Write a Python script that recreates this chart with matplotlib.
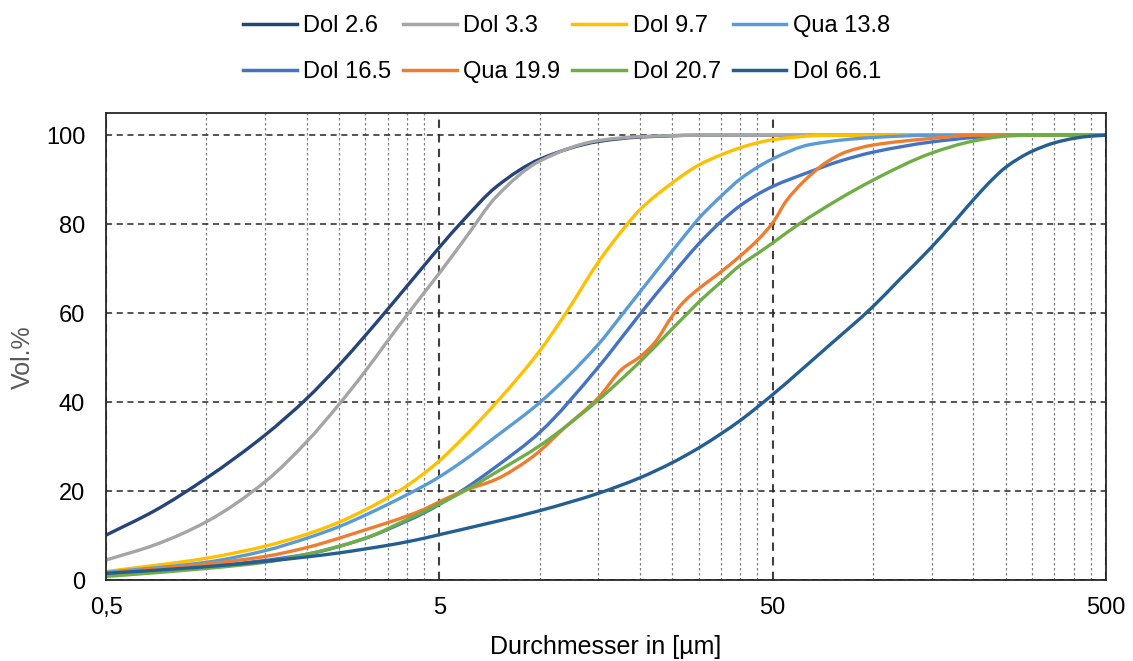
import numpy as np
import matplotlib
matplotlib.use("Agg")
import matplotlib.pyplot as plt
from matplotlib.path import Path
from matplotlib.patches import PathPatch
from matplotlib.lines import Line2D
from matplotlib.ticker import FixedLocator, FixedFormatter, NullFormatter

plt.rcParams['font.family'] = ['Liberation Sans', 'DejaVu Sans']

# particle size distributions, cumulative Vol.% over diameter in µm
dol_2_6_x = [0.5, 0.7, 1, 1.5, 2, 2.5, 3, 3.5, 4, 4.5, 5, 5.9, 7.43, 10, 15, 20, 30, 50, 500]
dol_2_6_y = [10.1, 15.6, 22.9, 32.6, 40.8, 48.3, 55.0, 60.9, 66.1, 70.7, 74.8, 80.9, 88.5, 94.6, 98.6, 99.6, 100, 100, 100]

dol_3_3_x = [0.5, 0.7, 1, 1.5, 2, 2.5, 3, 3.5, 4, 4.5, 5, 6, 7.43, 10, 15, 20, 30, 500]
dol_3_3_y = [4.5, 7.9, 13.1, 22.1, 31.1, 39.5, 47.0, 53.8, 59.6, 64.6, 69.0, 77.0, 86.3, 94.2, 98.8, 99.7, 100, 100]

dol_9_7_x = [0.5, 1, 1.5, 2, 2.5, 3, 3.5, 4, 4.5, 5, 5.9, 7.43, 10, 12.1, 15, 18.3, 20, 25, 30, 35, 40, 45, 50, 72.8, 500]
dol_9_7_y = [1.9, 4.9, 7.6, 10.3, 13.0, 15.8, 18.5, 21.2, 24.0, 26.8, 32.0, 40.0, 51.5, 60.5, 71.5, 80.0, 83.3, 89.3, 93.3, 95.6, 97.2, 98.3, 99.0, 100, 100]

qua_13_8_x = [0.5, 1, 1.5, 2, 2.5, 3, 3.5, 4, 4.5, 5, 5.9, 7.43, 10, 15, 17.8, 20, 25, 28.3, 30, 35, 40, 45, 50, 64.7, 100, 150, 500]
qua_13_8_y = [1.7, 4.0, 6.6, 9.4, 12.0, 14.6, 17.0, 19.2, 21.2, 23.2, 26.8, 32.4, 39.9, 53.0, 60.0, 64.8, 74.0, 79.0, 81.3, 86.3, 90.2, 92.8, 94.7, 97.9, 99.5, 100, 100]

dol_16_5_x = [0.5, 1, 2, 3, 4, 4.5, 5, 5.9, 7.43, 10, 15, 18.7, 20, 25, 30, 35, 40, 45, 50, 64.7, 79.6, 100, 150, 200, 250, 500]
dol_16_5_y = [1.3, 3.0, 5.8, 9.4, 13.3, 15.1, 17.0, 20.3, 25.6, 33.2, 47.9, 57.0, 59.8, 68.7, 75.6, 80.6, 84.2, 86.7, 88.5, 91.8, 94.2, 96.2, 98.5, 99.5, 100, 100]

qua_19_9_x = [0.5, 1, 1.5, 2, 2.5, 3, 3.5, 4, 4.5, 5, 5.9, 7.43, 9.36, 10, 11.78, 15, 17.7, 20, 22.2, 25, 27.1, 30, 35, 40, 45, 50, 55, 61.7, 72.7, 83.4, 100, 150, 200, 500]
qua_19_9_y = [1.5, 3.6, 5.3, 7.3, 9.4, 11.3, 12.9, 14.4, 15.9, 17.6, 20.0, 22.7, 27.3, 29.0, 34.0, 41.0, 47.5, 50.2, 53.5, 59.4, 62.6, 65.5, 69.3, 72.9, 76.4, 80.3, 85.3, 89.5, 94.0, 96.3, 97.8, 99.3, 100, 100]

dol_20_7_x = [0.5, 1, 1.5, 2, 3, 4, 4.5, 5, 5.9, 7.43, 10, 11.78, 15, 20, 25, 27.8, 30, 35, 40, 45, 50, 60.7, 100, 150, 200, 250, 300, 500]
dol_20_7_y = [0.8, 2.6, 4.0, 5.8, 9.4, 13.6, 15.4, 17.1, 19.9, 24.3, 30.2, 34.1, 40.5, 49.1, 56.5, 60.0, 62.5, 67.0, 70.8, 73.4, 75.8, 80.3, 89.9, 96.0, 98.7, 99.8, 100, 100]

dol_66_1_x = [0.5, 1, 1.5, 2, 2.5, 3, 3.5, 4, 4.5, 5, 7.43, 10, 15, 20, 25, 30, 35, 40, 45, 50, 72.7, 100, 119.5, 150, 174.6, 200, 228.9, 250, 300, 350, 400, 450, 500]
dol_66_1_y = [1.5, 3.0, 4.2, 5.2, 6.1, 7.0, 7.8, 8.6, 9.4, 10.2, 13.2, 15.6, 19.5, 23.0, 26.4, 29.7, 32.9, 35.9, 38.9, 41.7, 52.3, 61.5, 67.4, 74.9, 80.4, 85.5, 90.2, 92.8, 96.4, 98.3, 99.3, 99.8, 100]

labels = ["Dol 2.6", "Dol 3.3", "Dol 9.7", "Qua 13.8", "Dol 16.5", "Qua 19.9", "Dol 20.7", "Dol 66.1"]
colors = ["#264478", "#A5A5A5", "#FFC000", "#5B9BD5", "#4472C4", "#ED7D31", "#70AD47", "#255E91"]
series = [
    (dol_2_6_x, dol_2_6_y), (dol_3_3_x, dol_3_3_y), (dol_9_7_x, dol_9_7_y),
    (qua_13_8_x, qua_13_8_y), (dol_16_5_x, dol_16_5_y), (qua_19_9_x, qua_19_9_y),
    (dol_20_7_x, dol_20_7_y), (dol_66_1_x, dol_66_1_y),
]

x_ticks = [0.5, 5, 50, 500]
x_tick_labels = ["0,5", "5", "50", "500"]
y_ticks = [0, 20, 40, 60, 80, 100]


def smooth_path(xs, ys):
    """Smoothed line like Excel: monotone cubic bezier through the points, in log-x space."""
    lx = np.log10(xs)
    y = np.asarray(ys, float)
    h = np.diff(lx)
    d = np.diff(y) / h
    m = np.zeros(len(y))
    for k in range(1, len(y) - 1):
        if d[k - 1] * d[k] > 0:
            w1, w2 = 2 * h[k] + h[k - 1], h[k] + 2 * h[k - 1]
            m[k] = (w1 + w2) / (w1 / d[k - 1] + w2 / d[k])
    m[0], m[-1] = d[0], d[-1]
    verts = [(xs[0], ys[0])]
    codes = [Path.MOVETO]
    for k in range(len(y) - 1):
        verts += [(10 ** (lx[k] + h[k] / 3), y[k] + m[k] * h[k] / 3),
                  (10 ** (lx[k + 1] - h[k] / 3), y[k + 1] - m[k + 1] * h[k] / 3),
                  (xs[k + 1], ys[k + 1])]
        codes += [Path.CURVE4] * 3
    return Path(verts, codes)


fig = plt.figure(figsize=(11.33, 6.61), dpi=100)
ax = fig.add_axes([0.0936, 0.1225, 0.8826, 0.7065])

handles = []
for (xs, ys), lab, col in zip(series, labels, colors):
    ax.add_patch(PathPatch(smooth_path(xs, ys), fc='none', ec=col, lw=2.4,
                           capstyle='round', joinstyle='round'))
    handles.append(Line2D([], [], color=col, lw=2.5, label=lab))

ax.set_xscale('log')
ax.set_xlim(0.5, 500)
ax.set_ylim(0, 105)

# minor grid: every 0.5 step inside each decade
minor = [m * d for d in (1, 10, 100) for m in (1, 1.5, 2, 2.5, 3, 3.5, 4, 4.5)]
minor = [v for v in minor if v not in x_ticks]
ax.xaxis.set_major_locator(FixedLocator(x_ticks))
ax.xaxis.set_major_formatter(FixedFormatter(x_tick_labels))
ax.xaxis.set_minor_locator(FixedLocator(minor))
ax.xaxis.set_minor_formatter(NullFormatter())
ax.set_yticks(y_ticks)

ax.set_axisbelow(True)
ax.grid(which='minor', axis='x', color='#808080', ls=(0, (2, 2)), lw=0.9)
ax.grid(which='major', axis='x', color='#404040', ls=(0, (4, 3)), lw=1.5)
ax.grid(which='major', axis='y', color='#262626', ls=(0, (4, 3)), lw=1.1)

for s in ax.spines.values():
    s.set_color('#262626')
    s.set_linewidth(1.3)

ax.tick_params(which='both', length=0, labelsize=17)
ax.tick_params(axis='x', pad=12)
ax.tick_params(axis='y', pad=15)

ax.set_xlabel("Durchmesser in [µm]", fontsize=18, labelpad=12)
ax.set_ylabel("Vol.%", fontsize=18, color='#595959')
ax.yaxis.set_label_coords(-0.071, 0.4775)

# matplotlib fills legend columns first, so reorder to get the rows right
order = [0, 4, 1, 5, 2, 6, 3, 7]
fig.legend([handles[i] for i in order], [labels[i] for i in order],
           loc='upper center', bbox_to_anchor=(0.5, 1.0), ncol=4, frameon=False,
           fontsize=17, handlelength=2.27, handletextpad=0.28, columnspacing=0.5,
           labelspacing=1.0, borderaxespad=0, borderpad=0.65)

fig.savefig("out.png", dpi=100)
